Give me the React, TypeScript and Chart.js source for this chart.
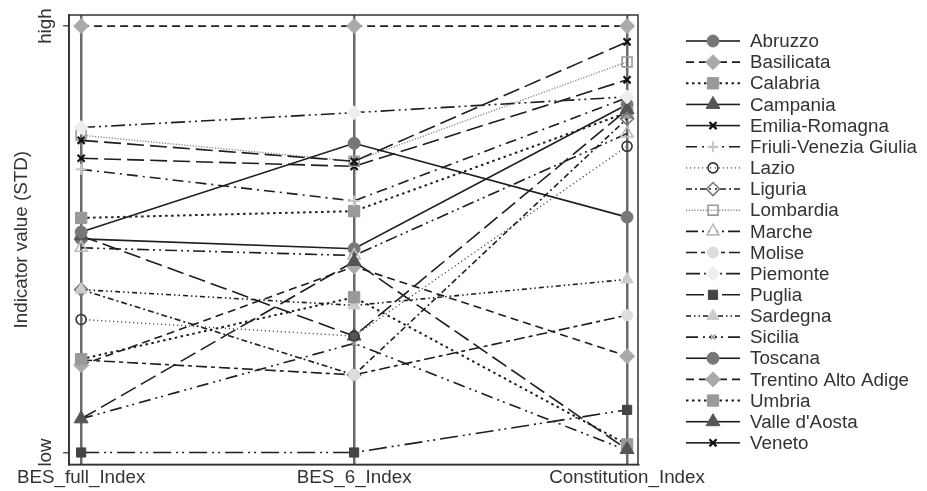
import React, { useEffect, useRef } from "react";
import { Chart, registerables } from "chart.js";
import { drawPoint } from "chart.js/helpers";

Chart.register(...registerables);

const FONT = "'Liberation Sans', Arial, Helvetica, sans-serif";
const TEXT = "#333333";
const FONT_SIZE = 18.8;

// Axes of the parallel-coordinate plot
const indexLabels = ["BES_full_Index", "BES_6_Index", "Constitution_Index"];
const yTickValues = [0, 1];
const yTickText = ["low", "high"];

const regions = [
  "Abruzzo",
  "Basilicata",
  "Calabria",
  "Campania",
  "Emilia-Romagna",
  "Friuli-Venezia Giulia",
  "Lazio",
  "Liguria",
  "Lombardia",
  "Marche",
  "Molise",
  "Piemonte",
  "Puglia",
  "Sardegna",
  "Sicilia",
  "Toscana",
  "Trentino Alto Adige",
  "Umbria",
  "Valle d'Aosta",
  "Veneto",
];

// Standardised indicator values (0 = low, 1 = high): BES_full, BES_6, Constitution
const abruzzo = [0.501, 0.478, 0.816];
const basilicata = [1.0, 1.0, 1.0];
const calabria = [0.55, 0.566, 0.797];
const campania = [0.508, 0.273, 0.804];
const emiliaRomagna = [0.69, 0.671, 0.874];
const friuliVG = [0.664, 0.59, 0.832];
const lazio = [0.312, 0.273, 0.718];
const liguria = [0.382, 0.182, 0.783];
const lombardia = [0.744, 0.683, 0.916];
const marche = [0.48, 0.462, 0.748];
const molise = [0.217, 0.182, 0.322];
const piemonte = [0.762, 0.797, 0.834];
const puglia = [0.0, 0.0, 0.1];
const sardegna = [0.382, 0.345, 0.406];
const sicilia = [0.079, 0.256, 0.005];
const toscana = [0.517, 0.725, 0.552];
const trentino = [0.205, 0.436, 0.226];
const umbria = [0.219, 0.364, 0.019];
const valleAosta = [0.079, 0.448, 0.007];
const veneto = [0.732, 0.683, 0.963];

const regionValues = [
  abruzzo, basilicata, calabria, campania, emiliaRomagna,
  friuliVG, lazio, liguria, lombardia, marche,
  molise, piemonte, puglia, sardegna, sicilia,
  toscana, trentino, umbria, valleAosta, veneto,
];

// Monochrome plot styles; the cycle restarts after fifteen series
type Look = {
  dash: number[];
  line: string;
  width: number;
  shape: string;
  radius: number;
  fill: string;
  edge: string;
  edgeWidth: number;
};

const NONE = "rgba(255,255,255,0)";

const looks: Look[] = [
  { dash: [], line: "#1e1e1e", width: 1.6, shape: "circle", radius: 6, fill: "#777", edge: "#777", edgeWidth: 1 },
  { dash: [8, 5], line: "#1e1e1e", width: 1.6, shape: "rectRot", radius: 7.5, fill: "#aaa", edge: "#aaa", edgeWidth: 1 },
  { dash: [2.5, 3.5], line: "#1e1e1e", width: 2, shape: "rect", radius: 8, fill: "#999", edge: "#999", edgeWidth: 1 },
  { dash: [17, 6], line: "#1e1e1e", width: 1.6, shape: "triangle", radius: 8, fill: "#555", edge: "#555", edgeWidth: 1 },
  { dash: [17, 6], line: "#1e1e1e", width: 1.6, shape: "crossRot", radius: 5, fill: NONE, edge: "#111", edgeWidth: 2.2 },
  { dash: [11, 5, 2, 5], line: "#1e1e1e", width: 1.6, shape: "cross", radius: 5.5, fill: NONE, edge: "#c8c8c8", edgeWidth: 2 },
  { dash: [1.2, 2.8], line: "#555", width: 1.4, shape: "circle", radius: 5, fill: NONE, edge: "#333", edgeWidth: 1.6 },
  { dash: [6, 3, 2, 3], line: "#1e1e1e", width: 1.6, shape: "rectRot", radius: 6.5, fill: NONE, edge: "#777", edgeWidth: 1.6 },
  { dash: [1.2, 1.6], line: "#8a8a8a", width: 1.4, shape: "rect", radius: 7, fill: NONE, edge: "#999", edgeWidth: 1.6 },
  { dash: [12, 4, 2, 4, 2, 4], line: "#1e1e1e", width: 1.6, shape: "triangle", radius: 7, fill: NONE, edge: "#bbb", edgeWidth: 1.6 },
  { dash: [11, 4, 4, 4], line: "#1e1e1e", width: 1.6, shape: "circle", radius: 5.5, fill: "#ddd", edge: "#ddd", edgeWidth: 1 },
  { dash: [14, 4, 2, 4, 2, 4], line: "#1e1e1e", width: 1.6, shape: "rectRot", radius: 7, fill: "#eee", edge: "#eee", edgeWidth: 1 },
  { dash: [18, 5, 2, 4, 2, 5], line: "#1e1e1e", width: 1.6, shape: "rect", radius: 6.5, fill: "#444", edge: "#444", edgeWidth: 1 },
  { dash: [5, 3, 1.5, 3, 1.5, 3], line: "#1e1e1e", width: 1.6, shape: "triangle", radius: 7, fill: "#ccc", edge: "#ccc", edgeWidth: 1 },
  { dash: [12, 5, 2, 4, 2, 5], line: "#1e1e1e", width: 1.6, shape: "crossRot", radius: 3.5, fill: NONE, edge: "#999", edgeWidth: 1.5 },
];

// Frame around the plot region (top and right sides are not drawn by the axes)
const framePlugin = {
  id: "plotFrame",
  beforeDatasetsDraw(chart: any) {
    const { ctx, chartArea } = chart;
    ctx.save();
    ctx.strokeStyle = "#333";
    ctx.lineWidth = 1.5;
    ctx.strokeRect(chartArea.left, chartArea.top, chartArea.right - chartArea.left, chartArea.bottom - chartArea.top);
    ctx.restore();
  },
};

// Legend to the right: a line sample (drawn from both ends towards the marker), then the name.
// Patterns whose first dash covers the half sample read as a solid key, as long dashes do.
const sideLegendPlugin = {
  id: "sideLegend",
  afterDraw(chart: any) {
    const { ctx, chartArea } = chart;
    const x0 = chartArea.right + 48;
    const x1 = x0 + 54;
    const xm = (x0 + x1) / 2;
    const rowH = 21.15;
    const y0 = chartArea.top + 26;
    chart.data.datasets.forEach((ds: any, i: number) => {
      const y = y0 + i * rowH;
      const dash: number[] = ds.borderDash || [];
      const keyDash = dash.length === 2 && dash[0] >= 15 ? [] : dash;
      ctx.save();
      ctx.strokeStyle = ds.borderColor;
      ctx.lineWidth = ds.borderWidth;
      ctx.setLineDash(keyDash);
      ctx.beginPath();
      ctx.moveTo(x0, y);
      ctx.lineTo(xm, y);
      ctx.stroke();
      ctx.beginPath();
      ctx.moveTo(x1, y);
      ctx.lineTo(xm, y);
      ctx.stroke();
      ctx.setLineDash([]);
      ctx.fillStyle = ds.pointBackgroundColor;
      ctx.strokeStyle = ds.pointBorderColor;
      ctx.lineWidth = ds.pointBorderWidth;
      drawPoint(
        ctx,
        { pointStyle: ds.pointStyle, radius: ds.pointRadius, rotation: 0, borderWidth: ds.pointBorderWidth } as any,
        xm,
        y
      );
      ctx.fillStyle = TEXT;
      ctx.font = `${FONT_SIZE}px ${FONT}`;
      ctx.textAlign = "left";
      ctx.textBaseline = "middle";
      ctx.fillText(ds.label, x1 + 10, y + 1);
      ctx.restore();
    });
  },
};

export default function App() {
  const canvasRef = useRef<HTMLCanvasElement | null>(null);

  useEffect(() => {
    if (!canvasRef.current) return;
    Chart.defaults.font.family = FONT;

    const datasets = regions.map((name, i) => {
      const look = looks[i % looks.length];
      return {
        label: name,
        data: regionValues[i].map((v, k) => ({ x: k, y: v })),
        borderColor: look.line,
        borderWidth: look.width,
        borderDash: look.dash,
        pointStyle: look.shape,
        pointRadius: look.radius,
        pointHoverRadius: look.radius,
        pointBackgroundColor: look.fill,
        pointBorderColor: look.edge,
        pointBorderWidth: look.edgeWidth,
        fill: false,
        tension: 0,
        order: regions.length - i,
      };
    });

    const chart = new Chart(canvasRef.current, {
      type: "line",
      data: { datasets } as any,
      options: {
        animation: false,
        responsive: true,
        maintainAspectRatio: false,
        layout: { padding: { top: 15, right: 289, bottom: 0, left: 0 } },
        plugins: {
          legend: { display: false },
          tooltip: { enabled: false },
        },
        scales: {
          x: {
            type: "linear",
            min: -0.044,
            max: 2.04,
            afterBuildTicks: (axis: any) => {
              axis.ticks = indexLabels.map((_, k) => ({ value: k }));
            },
            ticks: {
              autoSkip: false,
              maxRotation: 0,
              minRotation: 0,
              padding: 2,
              color: TEXT,
              font: { size: FONT_SIZE, family: FONT },
              callback: (v: any) => indexLabels[Number(v)] ?? "",
            },
            grid: { color: "#6a6a6a", lineWidth: 2.5, drawTicks: false },
            border: { display: true, color: "#333", width: 1.5 },
          },
          y: {
            type: "linear",
            min: -0.028,
            max: 1.026,
            afterBuildTicks: (axis: any) => {
              axis.ticks = yTickValues.map((v) => ({ value: v }));
            },
            ticks: {
              minRotation: 90,
              maxRotation: 90,
              crossAlign: "center",
              padding: 0,
              color: TEXT,
              font: { size: FONT_SIZE, family: FONT },
              callback: (v: any) => {
                const k = yTickValues.indexOf(Number(v));
                return k >= 0 ? yTickText[k] : "";
              },
            },
            grid: { drawOnChartArea: false, drawTicks: true, tickLength: 6, color: "#555", lineWidth: 1.5 },
            border: { display: true, color: "#333", width: 1.5 },
            title: {
              display: true,
              text: "Indicator value (STD)",
              color: TEXT,
              font: { size: FONT_SIZE, family: FONT },
              padding: { top: 11, bottom: 7 },
            },
          },
        },
      } as any,
      plugins: [framePlugin, sideLegendPlugin],
    });

    return () => chart.destroy();
  }, []);

  return (
    <div style={{ position: "fixed", left: 0, top: 0, width: 927, height: 491, background: "#fff" }}>
      <canvas ref={canvasRef} />
    </div>
  );
}
